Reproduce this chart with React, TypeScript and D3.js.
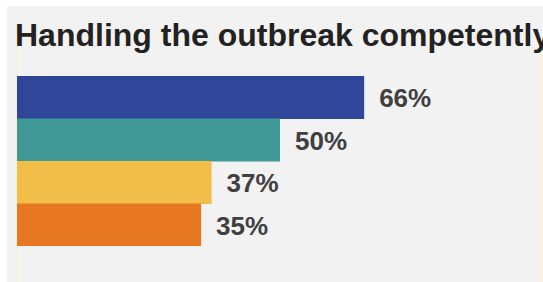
import React from "react";
import * as d3 from "d3";

const categories = ["A", "B", "C", "D"];
const values = [66, 50, 37, 35];
const labels = ["66%", "50%", "37%", "35%"];
const colors = ["#30469b", "#409897", "#f2be4a", "#e87722"];
const title = "Handling the outbreak competently";

export default function App() {
  const W = 543;
  const H = 282;
  const x = d3.scaleLinear().domain([0, 100]).range([17, 543]);
  const y = d3.scaleBand<string>().domain(categories).range([76, 246]).padding(0);
  return (
    <svg width={W} height={H} style={{ position: "absolute", left: 0, top: 0 }}
      fontFamily="'Liberation Sans', Arial, sans-serif">
      <rect x={7} y={6} width={W - 7} height={H - 6} fill="#f2f2f2" />
      <rect x={16.5} y={37.5} width={525} height={H} fill="none" stroke="#fbf0d2" strokeWidth={1} />
      <rect x={541} y={37} width={2} height={H} fill="#fcf3dc" />
      <text x={15} y={46} fontSize={32} fontWeight="bold" fill="#222222">{title}</text>
      {categories.map((c, i) => (
        <g key={c}>
          <rect x={x(0)} y={y(c)!} width={x(values[i]) - x(0)} height={y.bandwidth() + (i < 3 ? 0.5 : 0)} fill={colors[i]} />
          <text x={x(values[i]) + 15} y={y(c)! + y.bandwidth() / 2 + 10} fontSize={26} fontWeight="bold" fill="#404040">{labels[i]}</text>
        </g>
      ))}
    </svg>
  );
}
